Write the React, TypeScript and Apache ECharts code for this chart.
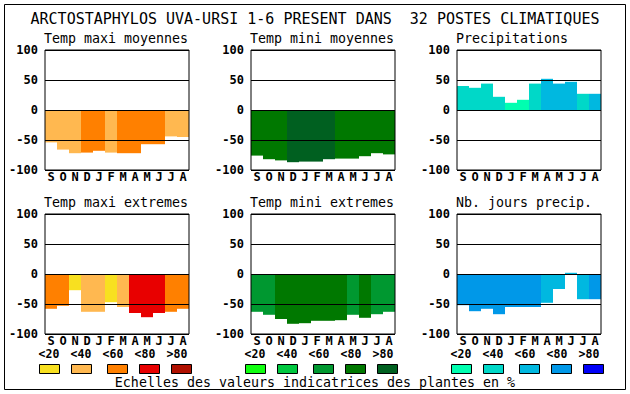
import React, { useEffect, useRef } from "react";
import * as echarts from "echarts";

const MONTHS = ["S", "O", "N", "D", "J", "F", "M", "A", "M", "J", "J", "A"];
const SCALE_LABELS = ["<20", "<40", "<60", "<80", ">80"];

const WARM = ["#F8E020", "#FFB850", "#FF8000", "#E80000", "#B01000"];
const GREEN = ["#10FF10", "#00C840", "#009830", "#007800", "#006020"];
const BLUE = ["#00FFB0", "#00D8C8", "#00B8E0", "#0098E8", "#0000F8"];

const TITLE = "ARCTOSTAPHYLOS UVA-URSI 1-6 PRESENT DANS  32 POSTES CLIMATIQUES";
const FOOTER = "Echelles des valeurs indicatrices des plantes en %";

const maxiMoyValues = [-54, -66, -72, -71, -68, -71, -72, -72, -57, -57, -44, -45];
const maxiMoyClass = [1, 1, 1, 2, 2, 1, 2, 2, 2, 2, 1, 1];

const miniMoyValues = [-76, -82, -84, -87, -86, -86, -82, -81, -81, -77, -72, -74];
const miniMoyClass = [3, 3, 3, 4, 4, 4, 4, 3, 3, 3, 3, 3];

const precipValues = [40, 37, 44, 22, 12, 17, 44, 52, 44, 47, 27, 27];
const precipClass = [1, 1, 1, 1, 0, 0, 1, 2, 2, 2, 1, 2];

const maxiExtValues = [-58, -53, -27, -63, -63, -47, -55, -65, -72, -65, -63, -58];
const maxiExtClass = [2, 2, 0, 1, 1, 0, 1, 3, 3, 3, 2, 2];

const miniExtValues = [-63, -68, -75, -83, -82, -78, -78, -77, -68, -73, -67, -63];
const miniExtClass = [2, 2, 3, 3, 3, 3, 3, 3, 2, 3, 2, 2];

const joursValues = [-52, -62, -58, -67, -55, -55, -55, -48, -25, 2, -42, -42];
const joursClass = [3, 3, 3, 3, 3, 3, 3, 2, 2, 2, 2, 3];

const panels = [
  { title: "Temp maxi moyennes", values: maxiMoyValues, classes: maxiMoyClass, palette: WARM, col: 0, row: 0 },
  { title: "Temp mini moyennes", values: miniMoyValues, classes: miniMoyClass, palette: GREEN, col: 1, row: 0 },
  { title: "Precipitations", values: precipValues, classes: precipClass, palette: BLUE, col: 2, row: 0 },
  { title: "Temp maxi extremes", values: maxiExtValues, classes: maxiExtClass, palette: WARM, col: 0, row: 1 },
  { title: "Temp mini extremes", values: miniExtValues, classes: miniExtClass, palette: GREEN, col: 1, row: 1 },
  { title: "Nb. jours precip.", values: joursValues, classes: joursClass, palette: BLUE, col: 2, row: 1 },
];
const PALETTES = [WARM, GREEN, BLUE];

const FONT = '"DejaVu Sans Mono", "Liberation Mono", monospace';
const COL_LEFT = [45, 251, 457];
const ROW_TOP = [50, 214];
const PW = 144;
const PH = 120;

function txt(text: string, x: number, y: number, size: number, weight: string, align: string) {
  return {
    type: "text",
    x,
    y,
    silent: true,
    z: 20,
    style: {
      text,
      fontFamily: FONT,
      fontSize: size,
      fontWeight: weight,
      fill: "#000",
      align,
      textAlign: align,
      verticalAlign: "middle",
      textVerticalAlign: "middle",
    },
  };
}

export default function App() {
  const ref = useRef<HTMLDivElement>(null);
  useEffect(() => {
    if (!ref.current) return;
    const chart = echarts.init(ref.current, undefined, { renderer: "svg" });

    const graphic: any[] = [];
    graphic.push({
      type: "rect",
      silent: true,
      z: 20,
      shape: { x: 4.5, y: 4.5, width: 621, height: 385 },
      style: { fill: "none", stroke: "#000", lineWidth: 1 },
    });
    graphic.push(txt(TITLE, 315, 19, 15, "normal", "center"));
    panels.forEach((p) => {
      graphic.push(txt(p.title, COL_LEFT[p.col] - 1, ROW_TOP[p.row] - 12, 13.3, "normal", "left"));
    });
    const swatchOffsets = [0, 32, 68, 100, 132];
    for (let c = 0; c < 3; c++) {
      SCALE_LABELS.forEach((lab, k) => {
        graphic.push(txt(lab, 49 + c * 206 + k * 32, 354, 11.5, "bold", "center"));
        graphic.push({
          type: "rect",
          silent: true,
          z: 20,
          shape: { x: 39.5 + c * 206 + swatchOffsets[k], y: 364.5, width: 20, height: 9 },
          style: { fill: PALETTES[c][k], stroke: "#000", lineWidth: 1 },
        });
      });
    }
    graphic.push(txt(FOOTER, 315, 382, 13.3, "normal", "center"));

    const option: any = {
      animation: false,
      backgroundColor: "#fff",
      grid: panels.map((p) => ({
        left: COL_LEFT[p.col],
        top: ROW_TOP[p.row],
        width: PW,
        height: PH,
        show: true,
        backgroundColor: "transparent",
        borderColor: "#000",
        borderWidth: 1,
        z: 10,
      })),
      xAxis: panels.map((p, i) => ({
        type: "category",
        gridIndex: i,
        data: MONTHS,
        boundaryGap: true,
        axisLine: { show: false },
        axisTick: { show: false },
        splitLine: { show: false },
        axisLabel: {
          interval: 0,
          margin: 1,
          fontFamily: FONT,
          fontWeight: "bold",
          fontSize: 12,
          color: "#000",
        },
        z: 10,
      })),
      yAxis: panels.map((p, i) => ({
        type: "value",
        gridIndex: i,
        min: -100,
        max: 100,
        interval: 50,
        axisLine: { show: false },
        axisTick: { show: false },
        splitLine: { show: true, lineStyle: { color: "#000", width: 1 } },
        axisLabel: {
          margin: 7,
          fontFamily: FONT,
          fontWeight: "bold",
          fontSize: 12,
          color: "#000",
        },
        z: 10,
      })),
      series: panels.map((p, i) => ({
        type: "bar",
        name: p.title,
        xAxisIndex: i,
        yAxisIndex: i,
        barCategoryGap: "0%",
        silent: true,
        data: p.values.map((v, j) => ({ value: v, itemStyle: { color: p.palette[p.classes[j]] } })),
      })),
      graphic,
    };
    chart.setOption(option);
    return () => chart.dispose();
  }, []);
  return (
    <div
      ref={ref}
      style={{ position: "fixed", left: 0, top: 0, width: 630, height: 394, background: "#fff" }}
    />
  );
}
